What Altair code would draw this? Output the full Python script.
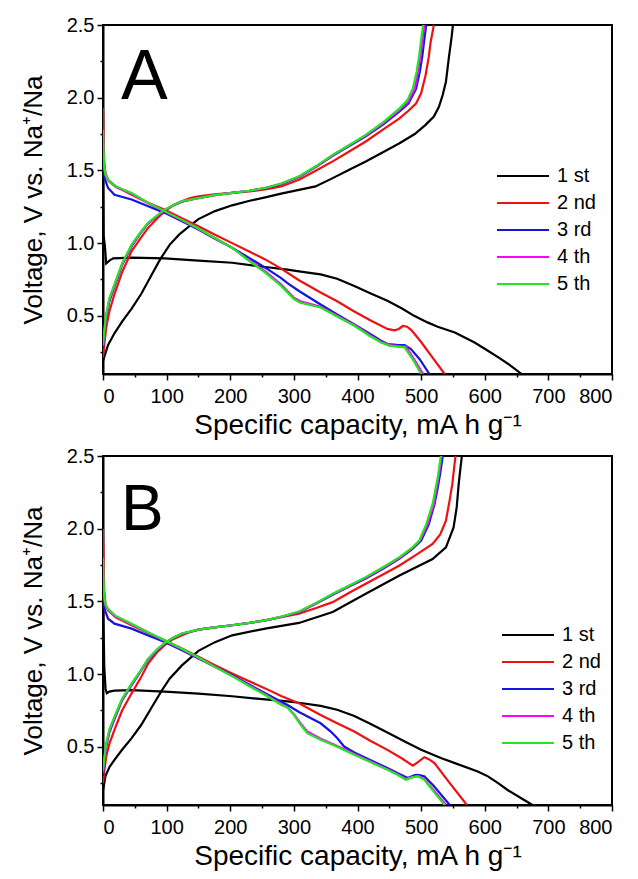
import altair as alt
import pandas as pd

cycles = ["1 st", "2 nd", "3 rd", "4 th", "5 th"]
colors = ["#000000", "#ee1111", "#1515dd", "#ff00ff", "#22e622"]
panel_labels = ["A", "B"]

# ---------- Panel A : (capacity mA h/g, voltage V) ----------
A1_dis = [(0, 1.6), (1, 1.05), (3, 0.98), (5, 0.86), (10, 0.88), (16, 0.895), (45, 0.9), (97, 0.895), (150, 0.88),
          (203, 0.865), (255, 0.836), (290, 0.818), (308, 0.806), (342, 0.785), (368, 0.755), (395, 0.705),
          (420, 0.655), (447, 0.603), (470, 0.55), (489, 0.5), (510, 0.455), (526, 0.425), (553, 0.386),
          (584, 0.317), (605, 0.26), (622, 0.213), (640, 0.16), (658, 0.1)]
A1_chg = [(0, 0.19), (8, 0.3), (18, 0.38), (30, 0.46), (45, 0.55), (60, 0.65), (75, 0.77), (90, 0.89),
          (105, 0.99), (120, 1.06), (139, 1.128), (150, 1.165), (176, 1.22), (203, 1.26), (229, 1.29),
          (255, 1.315), (280, 1.34), (308, 1.366), (334, 1.39), (361, 1.447), (387, 1.505), (413, 1.562),
          (440, 1.625), (466, 1.687), (490, 1.75), (507, 1.813), (520, 1.87), (528, 1.938), (534, 2.02),
          (539, 2.11), (544, 2.29), (548, 2.42), (550, 2.5)]
A2_dis = [(0, 1.93), (1, 1.7), (2, 1.55), (4, 1.48), (8, 1.436), (20, 1.39), (45, 1.333), (70, 1.28), (97, 1.23),
          (124, 1.172), (150, 1.116), (176, 1.058), (203, 1.0), (229, 0.944), (255, 0.888), (280, 0.825),
          (308, 0.745), (342, 0.66), (368, 0.6), (395, 0.53), (420, 0.47), (447, 0.41), (458, 0.4),
          (465, 0.41), (471, 0.43), (478, 0.425), (485, 0.4), (500, 0.32), (520, 0.2), (537, 0.1)]
A2_chg = [(0, 0.215), (2, 0.3), (5, 0.42), (10, 0.53), (18, 0.648), (30, 0.8), (45, 0.945), (60, 1.04),
          (71, 1.105), (85, 1.17), (97, 1.22), (110, 1.26), (124, 1.288), (137, 1.31), (150, 1.322),
          (175, 1.335), (203, 1.345), (230, 1.355), (255, 1.37), (280, 1.39), (308, 1.436), (335, 1.5),
          (361, 1.562), (387, 1.63), (413, 1.699), (440, 1.78), (466, 1.858), (480, 1.91), (492, 1.96),
          (500, 2.03), (507, 2.155), (512, 2.28), (515, 2.383), (520, 2.5)]
A3_dis = [(0, 1.55), (1, 1.5), (3, 1.44), (8, 1.379), (18, 1.333), (45, 1.3), (70, 1.255), (97, 1.208),
          (124, 1.15), (150, 1.094), (176, 1.03), (203, 0.968), (229, 0.9), (255, 0.831), (280, 0.76),
          (290, 0.725), (308, 0.671), (342, 0.578), (368, 0.51), (395, 0.44), (420, 0.375), (437, 0.329),
          (447, 0.306), (462, 0.3), (474, 0.298), (484, 0.272), (498, 0.2), (513, 0.1)]
A3_chg = [(0, 0.28), (2, 0.38), (5, 0.49), (10, 0.6), (18, 0.7), (30, 0.85), (45, 0.98), (60, 1.075),
          (71, 1.135), (85, 1.185), (97, 1.225), (110, 1.258), (124, 1.285), (150, 1.31), (175, 1.33),
          (203, 1.345), (230, 1.36), (255, 1.378), (280, 1.405), (308, 1.455), (335, 1.525), (361, 1.6),
          (387, 1.668), (413, 1.735), (440, 1.815), (466, 1.905), (480, 1.96), (492, 2.06), (498, 2.18),
          (502, 2.29), (505, 2.4), (508, 2.5)]
A4_dis = [(0, 1.75), (1, 1.6), (2, 1.52), (4, 1.47), (8, 1.43), (20, 1.385), (45, 1.34), (70, 1.278),
          (97, 1.218), (124, 1.158), (150, 1.098), (176, 1.034), (203, 0.968), (229, 0.885), (255, 0.805),
          (280, 0.715), (300, 0.625), (310, 0.6), (342, 0.562), (368, 0.5), (395, 0.437), (420, 0.365),
          (437, 0.32), (450, 0.298), (463, 0.292), (476, 0.288), (489, 0.2), (503, 0.1)]
A4_chg = [(0, 0.29), (2, 0.39), (5, 0.5), (10, 0.61), (18, 0.71), (30, 0.855), (45, 0.985), (60, 1.078),
          (71, 1.138), (85, 1.188), (97, 1.228), (110, 1.259), (124, 1.287), (150, 1.31), (175, 1.33),
          (203, 1.345), (230, 1.36), (255, 1.379), (280, 1.408), (308, 1.457), (335, 1.528), (361, 1.604),
          (387, 1.672), (413, 1.74), (440, 1.823), (466, 1.916), (479, 1.97), (490, 2.062), (495, 2.18),
          (499, 2.29), (502, 2.4), (505, 2.5)]
A5_dis = [(0, 1.78), (1, 1.62), (2, 1.52), (4, 1.47), (8, 1.436), (20, 1.39), (45, 1.345), (70, 1.28),
          (97, 1.22), (124, 1.16), (150, 1.1), (176, 1.035), (203, 0.968), (229, 0.88), (255, 0.797),
          (280, 0.705), (300, 0.615), (310, 0.59), (342, 0.557), (368, 0.495), (395, 0.432), (420, 0.36),
          (437, 0.317), (450, 0.295), (463, 0.288), (474, 0.283), (487, 0.2), (500, 0.1)]
A5_chg = [(0, 0.3), (2, 0.4), (5, 0.51), (10, 0.62), (18, 0.717), (30, 0.86), (45, 0.99), (60, 1.08),
          (71, 1.14), (85, 1.19), (97, 1.23), (110, 1.26), (124, 1.288), (150, 1.31), (175, 1.33),
          (203, 1.345), (230, 1.36), (255, 1.379), (280, 1.41), (308, 1.459), (335, 1.53), (361, 1.607),
          (387, 1.675), (413, 1.744), (440, 1.83), (466, 1.927), (478, 1.98), (487, 2.064), (493, 2.18),
          (497, 2.29), (500, 2.4), (503, 2.5)]

# ---------- Panel B ----------
B1_dis = [(0, 1.6), (1, 1.3), (2, 1.05), (4, 0.9), (6, 0.868), (10, 0.88), (18, 0.886), (45, 0.89), (97, 0.879),
          (150, 0.866), (203, 0.848), (255, 0.826), (290, 0.812), (308, 0.803), (342, 0.782), (368, 0.755),
          (395, 0.712), (420, 0.658), (447, 0.598), (475, 0.535), (500, 0.48), (532, 0.422), (553, 0.388),
          (589, 0.33), (605, 0.297), (621, 0.25), (637, 0.2), (660, 0.14), (675, 0.1)]
B1_chg = [(0, 0.2), (4, 0.3), (10, 0.36), (18, 0.41), (30, 0.48), (45, 0.56), (60, 0.65), (75, 0.76),
          (92, 0.885), (105, 0.97), (124, 1.06), (150, 1.16), (176, 1.22), (203, 1.267), (255, 1.313),
          (308, 1.352), (361, 1.427), (413, 1.553), (466, 1.678), (518, 1.792), (539, 1.872), (551, 2.009),
          (556, 2.15), (559, 2.306), (564, 2.5)]
B2_dis = [(0, 2.0), (1, 1.75), (2, 1.57), (4, 1.48), (8, 1.438), (20, 1.39), (45, 1.336), (70, 1.285),
          (97, 1.233), (124, 1.176), (150, 1.119), (176, 1.062), (203, 1.005), (229, 0.953), (255, 0.902),
          (280, 0.85), (308, 0.8), (342, 0.719), (368, 0.662), (395, 0.605), (420, 0.542), (447, 0.479),
          (470, 0.42), (487, 0.37), (495, 0.395), (505, 0.429), (512, 0.415), (521, 0.388), (545, 0.25),
          (572, 0.1)]
B2_chg = [(0, 0.25), (2, 0.33), (5, 0.434), (10, 0.52), (18, 0.616), (30, 0.75), (45, 0.868), (60, 0.98),
          (71, 1.073), (85, 1.15), (97, 1.199), (110, 1.24), (124, 1.267), (137, 1.29), (150, 1.306),
          (175, 1.322), (203, 1.336), (230, 1.352), (255, 1.37), (280, 1.392), (308, 1.415), (335, 1.455),
          (361, 1.495), (387, 1.56), (413, 1.621), (440, 1.685), (466, 1.747), (492, 1.82), (518, 1.895),
          (530, 1.96), (539, 2.055), (545, 2.2), (549, 2.306), (554, 2.5)]
B3_dis = [(0, 1.55), (1, 1.5), (3, 1.44), (8, 1.381), (18, 1.347), (45, 1.313), (70, 1.268), (97, 1.221),
          (124, 1.164), (150, 1.107), (176, 1.05), (203, 0.993), (229, 0.93), (255, 0.868), (280, 0.81),
          (290, 0.788), (308, 0.74), (342, 0.662), (358, 0.605), (368, 0.56), (379, 0.502), (395, 0.461),
          (420, 0.41), (447, 0.354), (465, 0.315), (479, 0.285), (490, 0.305), (495, 0.308), (505, 0.297),
          (520, 0.23), (545, 0.1)]
B3_chg = [(0, 0.3), (2, 0.4), (5, 0.5), (10, 0.6), (18, 0.69), (30, 0.82), (45, 0.925), (60, 1.025),
          (71, 1.1), (85, 1.165), (97, 1.21), (110, 1.248), (124, 1.277), (150, 1.306), (175, 1.322),
          (203, 1.336), (230, 1.352), (255, 1.37), (280, 1.393), (308, 1.425), (335, 1.485), (361, 1.545),
          (387, 1.602), (413, 1.658), (440, 1.725), (466, 1.795), (486, 1.86), (500, 1.918), (512, 2.03),
          (521, 2.169), (526, 2.28), (530, 2.38), (534, 2.5)]
B4_dis = [(0, 1.75), (1, 1.6), (2, 1.52), (4, 1.47), (8, 1.44), (20, 1.395), (45, 1.343), (70, 1.288),
          (97, 1.23), (124, 1.171), (150, 1.112), (176, 1.05), (203, 0.988), (229, 0.923), (255, 0.86),
          (280, 0.795), (290, 0.77), (300, 0.725), (310, 0.665), (321, 0.605), (342, 0.555), (368, 0.505),
          (395, 0.45), (420, 0.4), (447, 0.346), (462, 0.313), (477, 0.278), (487, 0.294), (495, 0.3),
          (505, 0.28), (520, 0.2), (539, 0.1)]
B4_chg = [(0, 0.32), (2, 0.41), (5, 0.51), (10, 0.61), (18, 0.7), (30, 0.825), (45, 0.93), (60, 1.028),
          (71, 1.104), (85, 1.168), (97, 1.213), (110, 1.249), (124, 1.278), (150, 1.306), (175, 1.322),
          (203, 1.336), (230, 1.352), (255, 1.37), (280, 1.394), (308, 1.428), (335, 1.488), (361, 1.55),
          (387, 1.606), (413, 1.663), (440, 1.73), (466, 1.8), (486, 1.866), (498, 1.918), (510, 2.03),
          (520, 2.169), (524, 2.27), (528, 2.37), (532, 2.5)]
B5_dis = [(0, 1.8), (1, 1.62), (2, 1.53), (4, 1.48), (8, 1.45), (20, 1.4), (45, 1.347), (70, 1.29),
          (97, 1.233), (124, 1.174), (150, 1.114), (176, 1.05), (203, 0.986), (229, 0.92), (255, 0.856),
          (280, 0.79), (290, 0.77), (300, 0.72), (310, 0.655), (321, 0.594), (342, 0.548), (368, 0.5),
          (395, 0.445), (420, 0.395), (447, 0.342), (462, 0.31), (476, 0.274), (486, 0.29), (495, 0.297),
          (505, 0.274), (520, 0.19), (537, 0.1)]
B5_chg = [(0, 0.34), (2, 0.42), (5, 0.525), (10, 0.62), (18, 0.708), (30, 0.83), (45, 0.936), (60, 1.03),
          (71, 1.107), (85, 1.17), (97, 1.215), (110, 1.25), (124, 1.279), (150, 1.306), (175, 1.322),
          (203, 1.336), (230, 1.352), (255, 1.37), (280, 1.395), (308, 1.43), (335, 1.49), (361, 1.553),
          (387, 1.61), (413, 1.667), (440, 1.735), (466, 1.804), (486, 1.87), (497, 1.918), (508, 2.03),
          (518, 2.169), (522, 2.26), (526, 2.35), (531, 2.5)]

panel_curves = {
    "A": [(A1_dis, A1_chg), (A2_dis, A2_chg), (A3_dis, A3_chg), (A4_dis, A4_chg), (A5_dis, A5_chg)],
    "B": [(B1_dis, B1_chg), (B2_dis, B2_chg), (B3_dis, B3_chg), (B4_dis, B4_chg), (B5_dis, B5_chg)],
}

FONT = "Liberation Sans"
x_ticks = list(range(0, 801, 50))
y_ticks = [0.25 * k for k in range(1, 11)]
legend_pos = {"A": (410, 141), "B": (415, 169)}
label_size = {"A": 70, "B": 64}


def make_panel(name):
    rows = []
    for ci, (dis, chg) in enumerate(panel_curves[name]):
        for branch, pts in (("dis", dis), ("chg", chg)):
            for i, (c, v) in enumerate(pts):
                rows.append({"cycle": cycles[ci], "key": f"{ci}-{branch}", "i": i, "cap": c, "v": v})
    df = pd.DataFrame(rows)
    lx, ly = legend_pos[name]

    lines = alt.Chart(df).mark_line(strokeWidth=2.2, clip=True).encode(
        x=alt.X("cap:Q", scale=alt.Scale(domain=[0, 800], nice=False),
                axis=alt.Axis(values=x_ticks, title="Specific capacity, mA h g\u207b\u00b9",
                              labelExpr="datum.value % 100 == 0 ? datum.label : ''",
                              tickSize={"condition": {"test": "datum.value % 100 == 0", "value": 6}, "value": 3},
                              labelPadding=6, titlePadding=5, grid=False)),
        y=alt.Y("v:Q", scale=alt.Scale(domain=[0.1, 2.5], nice=False, zero=False),
                axis=alt.Axis(values=y_ticks, title="Voltage, V vs. Na\u207a/Na", format=".1f",
                              labelExpr="(datum.value * 2) % 1 == 0 ? datum.label : ''",
                              tickSize={"condition": {"test": "(datum.value * 2) % 1 == 0", "value": 6}, "value": 3},
                              labelPadding=3, titlePadding=20, grid=False)),
        color=alt.Color("cycle:N", scale=alt.Scale(domain=cycles, range=colors),
                        legend=alt.Legend(title=None, orient="none", legendX=lx, legendY=ly,
                                          symbolType="M-5,0H5", symbolSize=108, symbolStrokeWidth=2.2,
                                          labelFontSize=20, labelFont=FONT, rowPadding=7,
                                          labelOffset=24)),
        detail="key:N",
        order="i:Q",
    )
    label = alt.Chart(pd.DataFrame({"t": [name]})).mark_text(
        align="left", baseline="alphabetic", fontSize=label_size[name], font=FONT, color="black"
    ).encode(text="t:N", x=alt.value(18), y=alt.value(74))
    return alt.layer(lines, label).properties(width=509, height=349)


chart = alt.vconcat(make_panel("A"), make_panel("B"), spacing=82, bounds="flush").resolve_scale(
    color="independent").resolve_legend(color="independent").properties(
    padding={"left": 11, "top": 6, "right": 5, "bottom": 5}
).configure_view(stroke="black", strokeWidth=2).configure_axis(
    domainColor="black", domainWidth=2, tickColor="black", tickWidth=1.5,
    labelColor="black", titleColor="black", labelFont=FONT, titleFont=FONT,
    labelFontSize=20, titleFontSize=26, titleFontWeight="normal"
).configure_axisX(titleFontSize=28)

chart.save("out.html", embed_options={"renderer": "svg", "actions": False})
